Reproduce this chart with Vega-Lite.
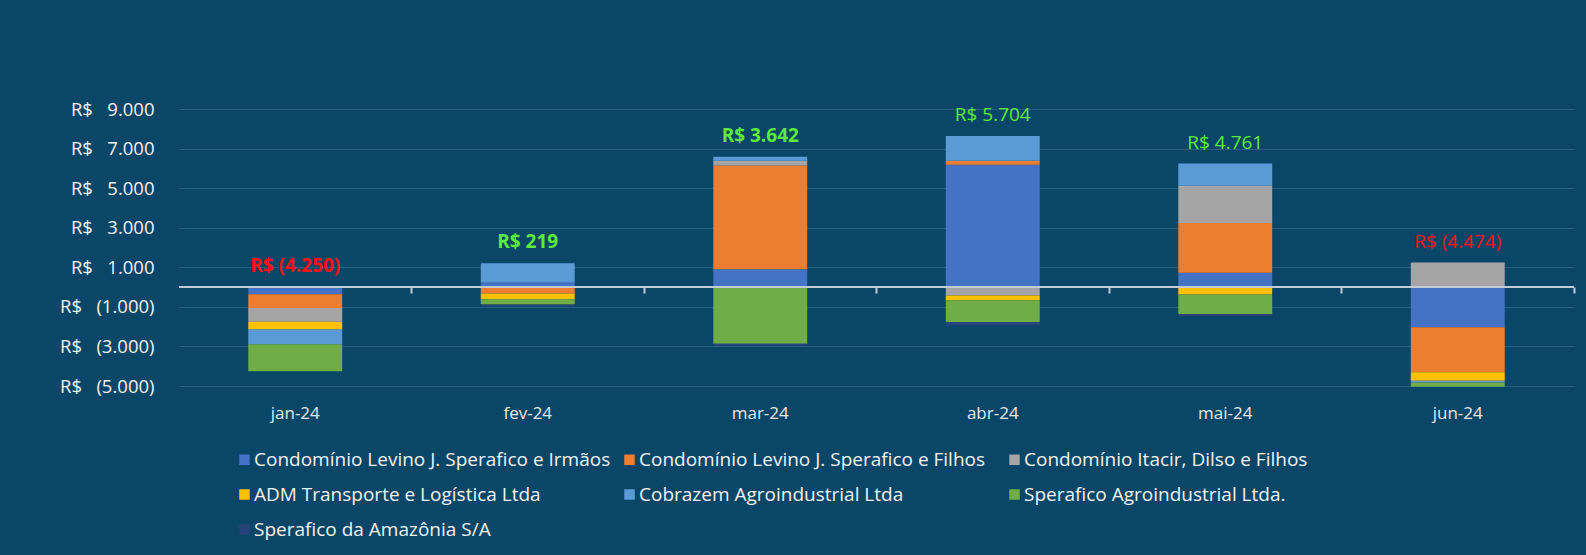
{
  "$schema": "https://vega.github.io/schema/vega-lite/v6.json",
  "width": 1395,
  "height": 277,
  "autosize": {"type": "none"},
  "padding": {"left": 179, "top": 109, "right": 12, "bottom": 169},
  "background": "#0A4668",
  "config": {
    "view": {"stroke": null},
    "font": "Open Sans",
    "axis": {"labelFont": "Open Sans", "titleFont": "Open Sans"},
    "legend": {"labelFont": "Open Sans"}
  },
  "datasets": {
    "valores": [
      {"mes": "jan-24", "empresa": "Condomínio Levino J. Sperafico e Irmãos", "valor": -363},
      {"mes": "jan-24", "empresa": "Condomínio Levino J. Sperafico e Filhos", "valor": -692},
      {"mes": "jan-24", "empresa": "Condomínio Itacir, Dilso e Filhos", "valor": -692},
      {"mes": "jan-24", "empresa": "ADM Transporte e Logística Ltda", "valor": -395},
      {"mes": "jan-24", "empresa": "Cobrazem Agroindustrial Ltda", "valor": -742},
      {"mes": "jan-24", "empresa": "Sperafico Agroindustrial Ltda.", "valor": -1367},
      {"mes": "jan-24", "empresa": "Sperafico da Amazônia S/A", "valor": 0},
      {"mes": "fev-24", "empresa": "Condomínio Levino J. Sperafico e Irmãos", "valor": 230},
      {"mes": "fev-24", "empresa": "Condomínio Levino J. Sperafico e Filhos", "valor": -330},
      {"mes": "fev-24", "empresa": "Condomínio Itacir, Dilso e Filhos", "valor": 0},
      {"mes": "fev-24", "empresa": "ADM Transporte e Logística Ltda", "valor": -280},
      {"mes": "fev-24", "empresa": "Cobrazem Agroindustrial Ltda", "valor": 970},
      {"mes": "fev-24", "empresa": "Sperafico Agroindustrial Ltda.", "valor": -270},
      {"mes": "fev-24", "empresa": "Sperafico da Amazônia S/A", "valor": -101},
      {"mes": "mar-24", "empresa": "Condomínio Levino J. Sperafico e Irmãos", "valor": 900},
      {"mes": "mar-24", "empresa": "Condomínio Levino J. Sperafico e Filhos", "valor": 5250},
      {"mes": "mar-24", "empresa": "Condomínio Itacir, Dilso e Filhos", "valor": 240},
      {"mes": "mar-24", "empresa": "ADM Transporte e Logística Ltda", "valor": 0},
      {"mes": "mar-24", "empresa": "Cobrazem Agroindustrial Ltda", "valor": 200},
      {"mes": "mar-24", "empresa": "Sperafico Agroindustrial Ltda.", "valor": -2870},
      {"mes": "mar-24", "empresa": "Sperafico da Amazônia S/A", "valor": -78},
      {"mes": "abr-24", "empresa": "Condomínio Levino J. Sperafico e Irmãos", "valor": 6180},
      {"mes": "abr-24", "empresa": "Condomínio Levino J. Sperafico e Filhos", "valor": 200},
      {"mes": "abr-24", "empresa": "Condomínio Itacir, Dilso e Filhos", "valor": -420},
      {"mes": "abr-24", "empresa": "ADM Transporte e Logística Ltda", "valor": -252},
      {"mes": "abr-24", "empresa": "Cobrazem Agroindustrial Ltda", "valor": 1260},
      {"mes": "abr-24", "empresa": "Sperafico Agroindustrial Ltda.", "valor": -1092},
      {"mes": "abr-24", "empresa": "Sperafico da Amazônia S/A", "valor": -172},
      {"mes": "mai-24", "empresa": "Condomínio Levino J. Sperafico e Irmãos", "valor": 720},
      {"mes": "mai-24", "empresa": "Condomínio Levino J. Sperafico e Filhos", "valor": 2520},
      {"mes": "mai-24", "empresa": "Condomínio Itacir, Dilso e Filhos", "valor": 1880},
      {"mes": "mai-24", "empresa": "ADM Transporte e Logística Ltda", "valor": -380},
      {"mes": "mai-24", "empresa": "Cobrazem Agroindustrial Ltda", "valor": 1120},
      {"mes": "mai-24", "empresa": "Sperafico Agroindustrial Ltda.", "valor": -980},
      {"mes": "mai-24", "empresa": "Sperafico da Amazônia S/A", "valor": -119},
      {"mes": "jun-24", "empresa": "Condomínio Levino J. Sperafico e Irmãos", "valor": -2033},
      {"mes": "jun-24", "empresa": "Condomínio Levino J. Sperafico e Filhos", "valor": -2269},
      {"mes": "jun-24", "empresa": "Condomínio Itacir, Dilso e Filhos", "valor": 1240},
      {"mes": "jun-24", "empresa": "ADM Transporte e Logística Ltda", "valor": -437},
      {"mes": "jun-24", "empresa": "Cobrazem Agroindustrial Ltda", "valor": -84},
      {"mes": "jun-24", "empresa": "Sperafico Agroindustrial Ltda.", "valor": -218},
      {"mes": "jun-24", "empresa": "Sperafico da Amazônia S/A", "valor": 0}
    ],
    "totais": [
      {"mes": "jan-24", "total": -4250},
      {"mes": "fev-24", "total": 219},
      {"mes": "mar-24", "total": 3642},
      {"mes": "abr-24", "total": 5704},
      {"mes": "mai-24", "total": 4761},
      {"mes": "jun-24", "total": -4474}
    ],
    "zero": [{"v": 0}]
  },
  "resolve": {"axis": {"x": "independent"}},
  "layer": [
    {
      "data": {"name": "valores"},
      "transform": [
        {"calculate": "indexof(['Condomínio Levino J. Sperafico e Irmãos','Condomínio Levino J. Sperafico e Filhos','Condomínio Itacir, Dilso e Filhos','ADM Transporte e Logística Ltda','Cobrazem Agroindustrial Ltda','Sperafico Agroindustrial Ltda.','Sperafico da Amazônia S/A'], datum.empresa)", "as": "ordem"}
      ],
      "mark": {"type": "bar"},
      "encoding": {
        "x": {
          "field": "mes", "type": "ordinal",
          "sort": ["jan-24", "fev-24", "mar-24", "abr-24", "mai-24", "jun-24"],
          "scale": {"paddingInner": 0.596, "paddingOuter": 0.298},
          "axis": {"title": null, "domain": false, "ticks": false, "grid": false, "labelAngle": 0, "labelColor": "#E8E8E8", "labelFontSize": 17, "labelPadding": 19}
        },
        "y": {
          "field": "valor", "type": "quantitative", "stack": "zero",
          "scale": {"domain": [-5000, 9000], "nice": false, "zero": false},
          "axis": {
            "title": null, "domain": false, "ticks": false,
            "values": [-5000, -3000, -1000, 1000, 3000, 5000, 7000, 9000],
            "tickCount": 10,
            "labelOverlap": false, "labelBound": false,
            "grid": true, "gridColor": "#2A5D80", "gridWidth": 1,
            "labelColor": "#F2F2F2", "labelFontSize": 18.5, "labelPadding": 25,
            "labelExpr": "'R$\u00a0\u00a0\u00a0' + (datum.value < 0 ? '(' + replace(format(-datum.value, ',.0f'), ',', '.') + ')' : replace(format(datum.value, ',.0f'), ',', '.'))"
          }
        },
        "color": {
          "field": "empresa", "type": "nominal",
          "scale": {
            "domain": ["Condomínio Levino J. Sperafico e Irmãos", "Condomínio Levino J. Sperafico e Filhos", "Condomínio Itacir, Dilso e Filhos", "ADM Transporte e Logística Ltda", "Cobrazem Agroindustrial Ltda", "Sperafico Agroindustrial Ltda.", "Sperafico da Amazônia S/A"],
            "range": ["#4472C4", "#ED7D31", "#A5A5A5", "#FFC000", "#5B9BD5", "#70AD47", "#264478"]
          },
          "legend": {
            "title": null, "orient": "none", "legendX": 56, "legendY": 341,
            "direction": "horizontal", "columns": 3, "gridAlign": "all",
            "columnPadding": 9, "rowPadding": 15,
            "symbolType": "square", "symbolSize": 110, "symbolStrokeWidth": 0, "symbolOffset": 0,
            "labelColor": "#F2F2F2", "labelFontSize": 19, "labelLimit": 600, "labelOffset": 0
          }
        },
        "order": {"field": "ordem", "type": "quantitative"}
      }
    },
    {
      "data": {"name": "zero"},
      "mark": {"type": "rule", "color": "#C3CAD2", "strokeWidth": 2},
      "encoding": {"y": {"field": "v", "type": "quantitative"}}
    },
    {
      "data": {"name": "valores"},
      "transform": [
        {"calculate": "max(datum.valor, 0)", "as": "pos"},
        {"aggregate": [{"op": "sum", "field": "pos", "as": "topo"}], "groupby": ["mes"]},
        {"lookup": "mes", "from": {"data": {"name": "totais"}, "key": "mes", "fields": ["total"]}},
        {"calculate": "'R$ ' + (datum.total < 0 ? '(' + replace(format(-datum.total, ',.0f'), ',', '.') + ')' : replace(format(datum.total, ',.0f'), ',', '.'))", "as": "rotulo"},
        {"filter": {"field": "mes", "oneOf": ["jan-24", "fev-24", "mar-24"]}}
      ],
      "mark": {"type": "text", "fontWeight": "bold", "fontSize": 19, "dy": -21, "baseline": "middle"},
      "encoding": {
        "x": {
          "field": "mes", "type": "ordinal",
          "sort": ["jan-24", "fev-24", "mar-24", "abr-24", "mai-24", "jun-24"],
          "axis": {"orient": "bottom", "offset": -99, "title": null, "labels": false, "domain": false, "grid": false, "ticks": true, "tickOffset": 116, "tickSize": 6, "tickColor": "#C3CAD2", "tickWidth": 2}
        },
        "y": {"field": "topo", "type": "quantitative"},
        "text": {"field": "rotulo"},
        "color": {"condition": {"test": "datum.total < 0", "value": "#FF1010"}, "value": "#5CEB3A"}
      }
    },
    {
      "data": {"name": "valores"},
      "transform": [
        {"calculate": "max(datum.valor, 0)", "as": "pos"},
        {"aggregate": [{"op": "sum", "field": "pos", "as": "topo"}], "groupby": ["mes"]},
        {"lookup": "mes", "from": {"data": {"name": "totais"}, "key": "mes", "fields": ["total"]}},
        {"calculate": "'R$ ' + (datum.total < 0 ? '(' + replace(format(-datum.total, ',.0f'), ',', '.') + ')' : replace(format(datum.total, ',.0f'), ',', '.'))", "as": "rotulo"},
        {"filter": {"field": "mes", "oneOf": ["abr-24", "mai-24", "jun-24"]}}
      ],
      "mark": {"type": "text", "fontWeight": "normal", "fontSize": 19, "dy": -21, "baseline": "middle"},
      "encoding": {
        "x": {
          "field": "mes", "type": "ordinal",
          "sort": ["jan-24", "fev-24", "mar-24", "abr-24", "mai-24", "jun-24"],
          "axis": null
        },
        "y": {"field": "topo", "type": "quantitative"},
        "text": {"field": "rotulo"},
        "color": {"condition": {"test": "datum.total < 0", "value": "#FF1010"}, "value": "#5CEB3A"}
      }
    }
  ]
}
